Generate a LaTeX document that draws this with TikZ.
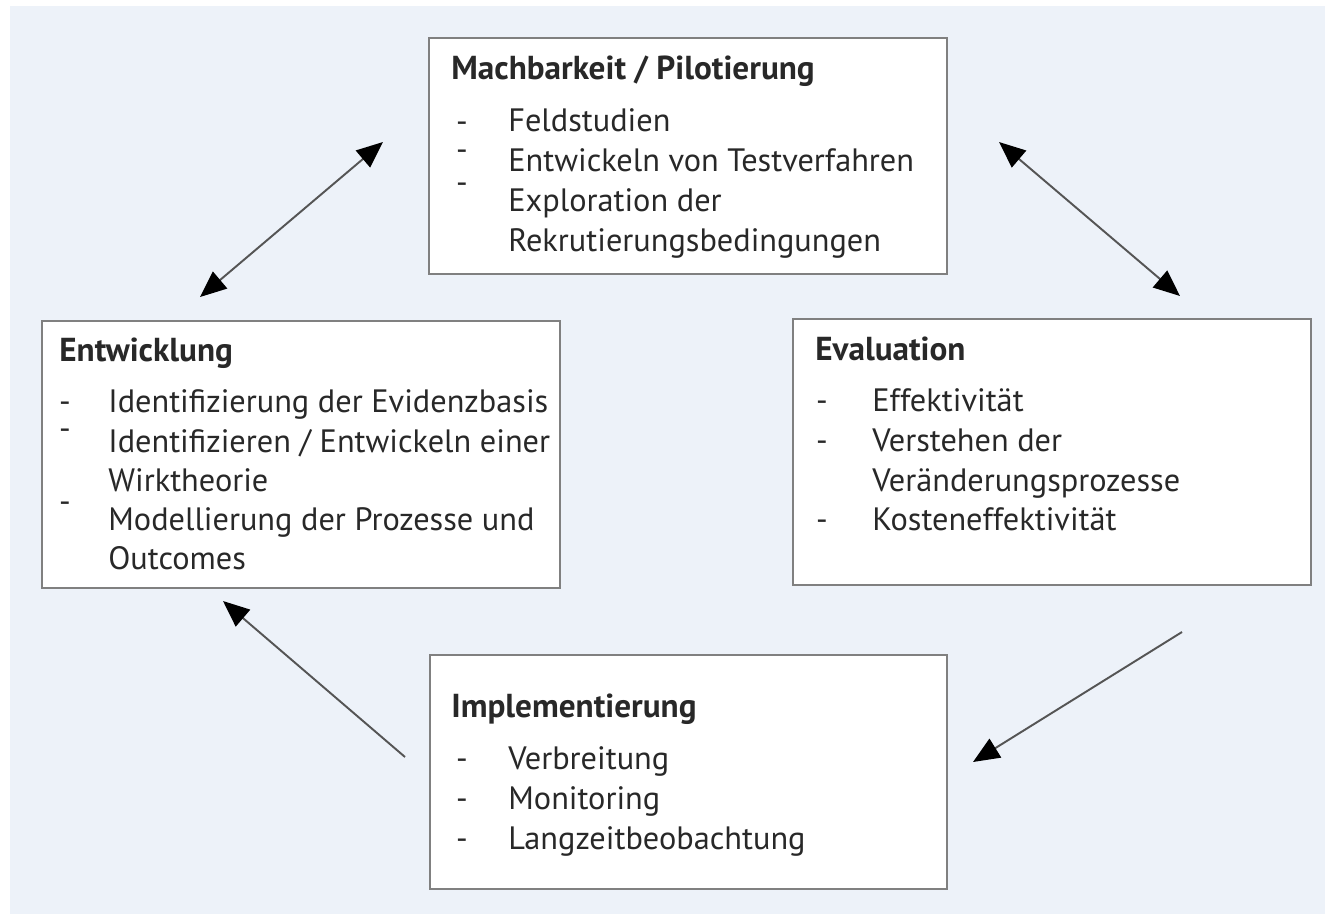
\documentclass[tikz,border=0pt]{standalone}
\usepackage{fontspec}
\setmainfont{PT Sans}
\usetikzlibrary{arrows.meta}
\definecolor{hintergrund}{RGB}{237,242,249}
\definecolor{rahmen}{RGB}{128,128,128}
\definecolor{linie}{RGB}{85,85,85}
\definecolor{schrift}{RGB}{40,40,40}
\begin{document}
\begin{tikzpicture}[x=0.02cm,y=-0.02cm,
  box/.style={draw=rahmen,fill=white,line width=1.6pt,inner sep=0pt},
  titel/.style={anchor=base west,inner sep=0pt,text=schrift,font=\fontsize{18.9}{22}\selectfont\bfseries},
  punkt/.style={anchor=base west,inner sep=0pt,text=schrift,font=\fontsize{18.4}{22}\selectfont},
  strich/.style={anchor=base,inner sep=0pt,text=schrift,font=\fontsize{18.4}{22}\selectfont},
  pfeil/.style={draw=linie,line width=1.1pt},
  spitze/.tip={Triangle[length=15pt,width=12.5pt,color=black]}]
\useasboundingbox (0,0) rectangle (1325,914);
\fill[hintergrund] (10,6) rectangle (1325,914);
% Kaesten
\node[box,minimum width=10.36cm,minimum height=4.72cm] (mach) at (688,156) {};
\node[box,minimum width=10.36cm,minimum height=5.34cm] (entw) at (301,454.5) {};
\node[box,minimum width=10.36cm,minimum height=5.32cm] (eval) at (1052,452) {};
\node[box,minimum width=10.34cm,minimum height=4.68cm] (impl) at (688.5,772) {};
% Machbarkeit
\node[titel] (machtitel) at (451,79) {Machbarkeit / Pilotierung};
\foreach \y/\t [count=\i] in {131/Feldstudien,171/Entwickeln von Testverfahren,211/Exploration der,251/Rekrutierungsbedingungen}
  \node[punkt] (mach\i) at (508,\y) {\t};
\foreach \y [count=\i] in {132,160,193}
  \node[strich] (machstrich\i) at (462,\y) {-};
% Entwicklung
\node[titel] (entwtitel) at (59,361) {Entwicklung};
\foreach \y/\t [count=\i] in {412/Identifizierung der Evidenzbasis,452/{Identifizieren / Entwickeln einer},491/Wirktheorie,530/Modellierung der Prozesse und,569/Outcomes}
  \node[punkt] (entw\i) at (108,\y) {\t};
\foreach \y [count=\i] in {412,439,512}
  \node[strich] (entwstrich\i) at (65,\y) {-};
% Evaluation
\node[titel] (evaltitel) at (815,360) {Evaluation};
\foreach \y/\t [count=\i] in {411/Effektivität,451/Verstehen der,491/Veränderungsprozesse,530/Kosteneffektivität}
  \node[punkt] (eval\i) at (872,\y) {\t};
\foreach \y [count=\i] in {411,451,530}
  \node[strich] (evalstrich\i) at (822,\y) {-};
% Implementierung
\node[titel] (impltitel) at (451,717) {Implementierung};
\foreach \y/\t [count=\i] in {769/Verbreitung,809/Monitoring,849/Langzeitbeobachtung}
  \node[punkt] (impl\i) at (508,\y) {\t};
\foreach \y [count=\i] in {769,809,849}
  \node[strich] (implstrich\i) at (462,\y) {-};
% Pfeile
\coordinate (entwoben) at (200,297);
\coordinate (machlinks) at (383,142);
\coordinate (machrechts) at (999,142);
\coordinate (evaloben) at (1180,296);
\coordinate (evalunten) at (1182,632);
\coordinate (implrechts) at (973,762);
\coordinate (impllinks) at (405,757);
\coordinate (entwunten) at (223,601);
\draw[pfeil,spitze-spitze] (entwoben) -- (machlinks);
\draw[pfeil,spitze-spitze] (machrechts) -- (evaloben);
\draw[pfeil,-spitze] (evalunten) -- (implrechts);
\draw[pfeil,-spitze] (impllinks) -- (entwunten);
\end{tikzpicture}
\end{document}
